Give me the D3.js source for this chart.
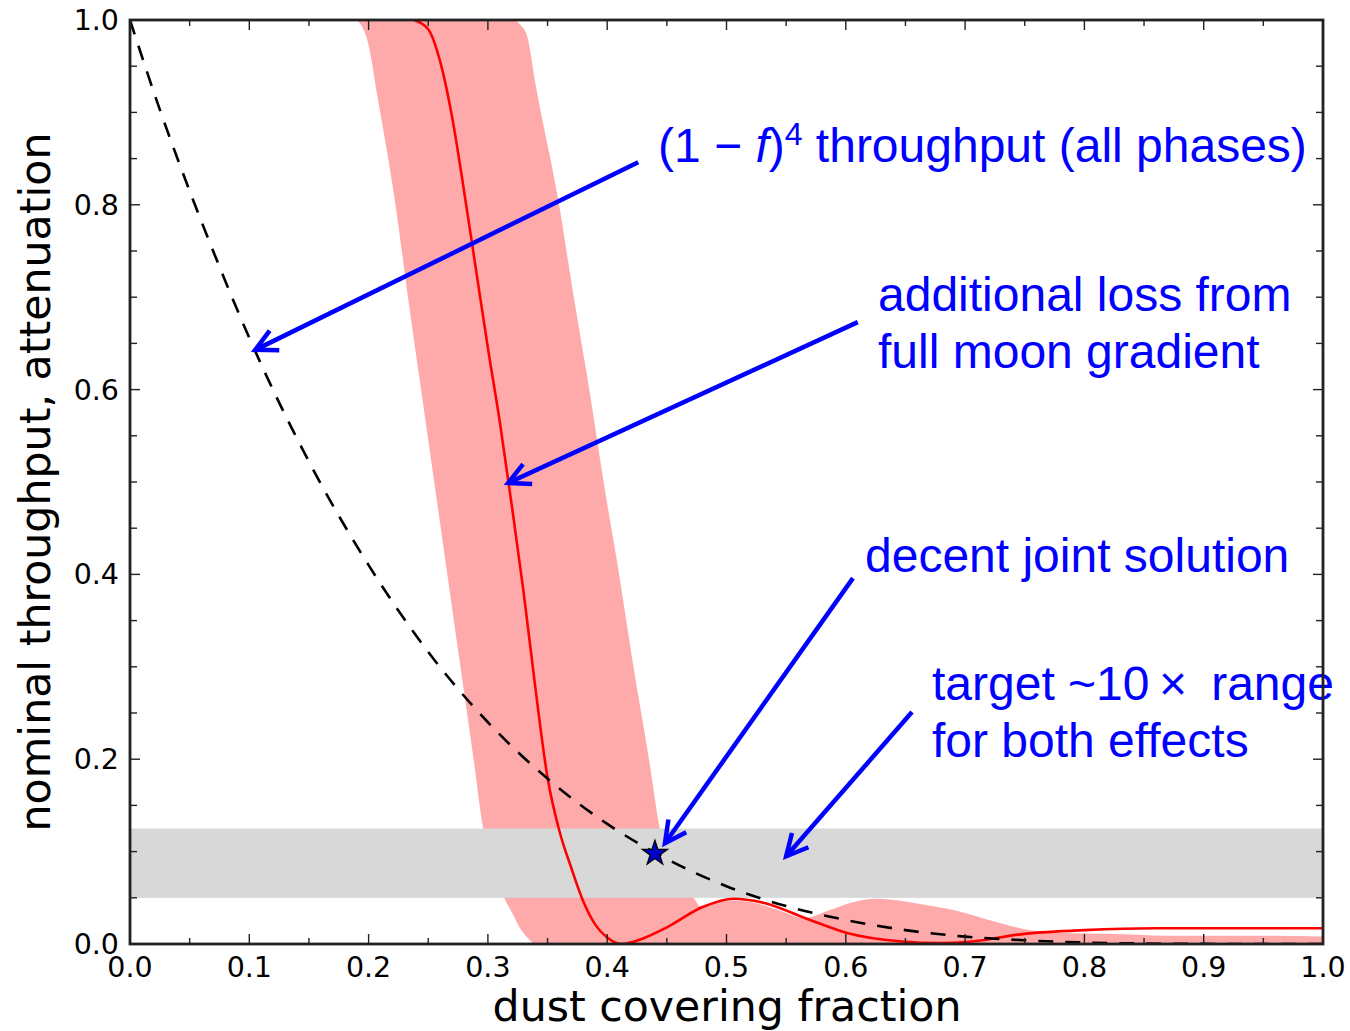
<!DOCTYPE html>
<html>
<head>
<meta charset="utf-8">
<script src="https://cdn.jsdelivr.net/npm/d3@7"></script>
<style>
  body { margin: 0; background: #fff; }
  svg { display: block; }
</style>
</head>
<body>
<svg id="chart"></svg>
<script>
// dashed curve
const dashF = [0, 0.025, 0.05, 0.075, 0.1, 0.15, 0.2, 0.25, 0.3, 0.35, 0.4, 0.45, 0.5, 0.55, 0.6, 0.65, 0.7, 0.75, 0.8, 0.85, 0.9, 0.95, 1.0]
const dashY = [1.0, 0.903, 0.815, 0.733, 0.656, 0.522, 0.410, 0.316, 0.240, 0.179, 0.130, 0.092, 0.0625, 0.041, 0.026, 0.015, 0.008, 0.004, 0.0016, 0.0005, 0.0001, 0, 0]

// red attenuation line
const redF = [0.238, 0.25, 0.26, 0.27, 0.28, 0.29, 0.30, 0.31, 0.32, 0.33, 0.34, 0.35, 0.36, 0.37, 0.38, 0.39, 0.40, 0.412, 0.43, 0.45, 0.48, 0.506, 0.53, 0.57, 0.601, 0.645, 0.68, 0.70, 0.75, 0.80, 0.86, 0.93, 1.0]
const redY = [1.0, 0.99, 0.955, 0.895, 0.815, 0.73, 0.645, 0.565, 0.475, 0.38, 0.275, 0.18, 0.122, 0.082, 0.046, 0.021, 0.007, 0.0, 0.006, 0.018, 0.040, 0.049, 0.045, 0.026, 0.012, 0.003, 0.001, 0.002, 0.011, 0.015, 0.017, 0.017, 0.017]

// pink band (lower / upper edge)
const bandF  = [0.190, 0.199, 0.208, 0.222, 0.233, 0.244, 0.255, 0.266, 0.277, 0.288, 0.296, 0.303, 0.313, 0.321, 0.327, 0.333, 0.340, 0.359, 0.372, 0.385, 0.397, 0.410, 0.422, 0.435, 0.444, 0.452, 0.462, 0.472, 0.478, 0.490, 0.505, 0.525, 0.545, 0.565, 0.585, 0.605, 0.626, 0.650, 0.672, 0.696, 0.720, 0.750, 0.780, 0.820, 0.870, 0.930, 1.000]
const bandLo = [1.000, 0.978, 0.913, 0.805, 0.700, 0.600, 0.500, 0.400, 0.300, 0.200, 0.125, 0.088, 0.052, 0.032, 0.017, 0.007, 0, 0, 0, 0, 0, 0, 0, 0, 0, 0, 0, 0, 0, 0, 0, 0, 0, 0, 0, 0, 0, 0, 0, 0, 0, 0, 0, 0, 0, 0, 0]
const bandHi = [1.000, 1.000, 1.000, 1.000, 1.000, 1.000, 1.000, 1.000, 1.000, 1.000, 1.000, 1.000, 1.000, 1.000, 0.995, 0.982, 0.930, 0.805, 0.700, 0.600, 0.500, 0.400, 0.300, 0.200, 0.125, 0.080, 0.060, 0.051, 0.041, 0.045, 0.047, 0.044, 0.036, 0.028, 0.036, 0.045, 0.049, 0.046, 0.041, 0.035, 0.026, 0.016, 0.012, 0.011, 0.009, 0.009, 0.008]

// grey target range
const targetRange = [0.05, 0.125]
// joint solution
const starPoint = [0.44, 0.098]

const xTicks = [0, 0.1, 0.2, 0.3, 0.4, 0.5, 0.6, 0.7, 0.8, 0.9, 1.0]
const yTicks = [0, 0.2, 0.4, 0.6, 0.8, 1.0]

const W = 1350, H = 1031
const margin = {left: 130, top: 20, right: 27, bottom: 87}
const iw = W - margin.left - margin.right
const ih = H - margin.top - margin.bottom

const svg = d3.select('#chart').attr('width', W).attr('height', H)

const x = d3.scaleLinear().domain([0, 1]).range([margin.left, margin.left + iw])
const y = d3.scaleLinear().domain([0, 1]).range([margin.top + ih, margin.top])

svg.append('clipPath').attr('id', 'plotclip')
  .append('rect').attr('x', margin.left).attr('y', margin.top).attr('width', iw).attr('height', ih)

const plot = svg.append('g').attr('clip-path', 'url(#plotclip)')

// pink band
const band = bandF.map((f, i) => [f, bandLo[i], bandHi[i]])
plot.append('path')
  .datum(band)
  .attr('fill', '#ffaaaa')
  .attr('d', d3.area().x(d => x(d[0])).y0(d => y(d[1])).y1(d => y(d[2])).curve(d3.curveMonotoneX))

// grey band
plot.append('rect')
  .attr('x', x(0)).attr('width', x(1) - x(0))
  .attr('y', y(targetRange[1])).attr('height', y(targetRange[0]) - y(targetRange[1]))
  .attr('fill', '#d8d8d8')

// red line
plot.append('path')
  .datum(redF.map((f, i) => [f, redY[i]]))
  .attr('fill', 'none').attr('stroke', '#ff0000').attr('stroke-width', 2.6)
  .attr('d', d3.line().x(d => x(d[0])).y(d => y(d[1])).curve(d3.curveMonotoneX))

// dashed (1-f)^4
plot.append('path')
  .datum(dashF.map((f, i) => [f, dashY[i]]))
  .attr('fill', 'none').attr('stroke', '#000').attr('stroke-width', 2.6)
  .attr('stroke-dasharray', '15,12')
  .attr('d', d3.line().x(d => x(d[0])).y(d => y(d[1])).curve(d3.curveMonotoneX))

// star
svg.append('path')
  .attr('transform', `translate(${x(starPoint[0])},${y(starPoint[1])})`)
  .attr('d', d3.symbol(d3.symbolStar, 200)())
  .attr('fill', '#0000cc').attr('stroke', '#000').attr('stroke-width', 1.2)

// annotation arrows: tail -> tip, in data coords
const arrows = [
  {from: [0.426, 0.846], to: [0.105, 0.643]},
  {from: [0.610, 0.673], to: [0.317, 0.499]},
  {from: [0.606, 0.396], to: [0.4484, 0.109]},
  {from: [0.6555, 0.251], to: [0.550, 0.095]}
]
const headLen = 24, headAng = 27 * Math.PI / 180
arrows.forEach(a => {
  const x0 = x(a.from[0]), y0 = y(a.from[1])
  const x1 = x(a.to[0]), y1 = y(a.to[1])
  const ang = Math.atan2(y0 - y1, x0 - x1)
  const w1 = [x1 + headLen * Math.cos(ang + headAng), y1 + headLen * Math.sin(ang + headAng)]
  const w2 = [x1 + headLen * Math.cos(ang - headAng), y1 + headLen * Math.sin(ang - headAng)]
  svg.append('line')
    .attr('x1', x0).attr('y1', y0).attr('x2', x1).attr('y2', y1)
    .attr('stroke', '#0000ff').attr('stroke-width', 4.5)
  svg.append('path')
    .attr('d', `M${w1[0]},${w1[1]}L${x1},${y1}L${w2[0]},${w2[1]}`)
    .attr('fill', 'none').attr('stroke', '#0000ff').attr('stroke-width', 4.5)
    .attr('stroke-linejoin', 'miter')
})

// annotation texts
const noteFont = '"Liberation Sans", Arial, sans-serif'
const noteSize = 48
const t1 = svg.append('text')
  .attr('x', 658).attr('y', 162)
  .attr('font-family', noteFont).attr('font-size', noteSize).attr('fill', '#0000ff')
t1.append('tspan').text('(1 \u2212 ')
t1.append('tspan').attr('font-style', 'italic').text('f')
t1.append('tspan').text(')')
t1.append('tspan').attr('font-size', 32).attr('dy', -17).text('4')
t1.append('tspan').attr('dy', 17).text(' throughput (all phases)')

const notes = [
  {x: 878, y: 311, lines: ['additional loss from', 'full moon gradient']},
  {x: 865, y: 572, lines: ['decent joint solution']},
  {x: 932, y: 700, lines: ['target ~10\u2009\u00d7\u2002range', 'for both effects']}
]
notes.forEach(n => {
  const t = svg.append('text')
    .attr('font-family', noteFont).attr('font-size', noteSize).attr('fill', '#0000ff')
    .attr('xml:space', 'preserve')
  n.lines.forEach((l, i) => {
    t.append('tspan').attr('x', n.x).attr('y', n.y + i * 57).text(l)
  })
})

// frame
const axisColor = '#222'
svg.append('rect')
  .attr('x', margin.left).attr('y', margin.top).attr('width', iw).attr('height', ih)
  .attr('fill', 'none').attr('stroke', axisColor).attr('stroke-width', 2.8)

const ticks = svg.append('g').attr('stroke', axisColor).attr('stroke-width', 1.4)
d3.range(0, 21).forEach(i => {
  const v = i / 20
  const major = i % 2 === 0
  const lx = major ? 10 : 6
  // bottom / top
  ticks.append('line').attr('x1', x(v)).attr('x2', x(v)).attr('y1', y(0)).attr('y2', y(0) - lx)
  ticks.append('line').attr('x1', x(v)).attr('x2', x(v)).attr('y1', y(1)).attr('y2', y(1) + lx)
  // left / right
  const ly = i % 4 === 0 ? 10 : 7
  ticks.append('line').attr('y1', y(v)).attr('y2', y(v)).attr('x1', x(0)).attr('x2', x(0) + ly)
  ticks.append('line').attr('y1', y(v)).attr('y2', y(v)).attr('x1', x(1)).attr('x2', x(1) - ly)
})

const fmt = d3.format('.1f')
const tickFont = '"DejaVu Sans", sans-serif'
svg.append('g').selectAll('text').data(xTicks).join('text')
  .attr('x', d => x(d)).attr('y', 977)
  .attr('text-anchor', 'middle')
  .attr('font-family', tickFont).attr('font-size', 28.5).attr('fill', '#000')
  .text(d => fmt(d))
svg.append('g').selectAll('text').data(yTicks).join('text')
  .attr('x', 119).attr('y', d => y(d) + 10)
  .attr('text-anchor', 'end')
  .attr('font-family', tickFont).attr('font-size', 28.5).attr('fill', '#000')
  .text(d => fmt(d))

// axis labels
svg.append('text')
  .attr('x', 727).attr('y', 1021).attr('text-anchor', 'middle')
  .attr('font-family', tickFont).attr('font-size', 42.7).attr('fill', '#000')
  .text('dust covering fraction')
svg.append('text')
  .attr('transform', 'translate(50,482) rotate(-90)')
  .attr('text-anchor', 'middle')
  .attr('font-family', tickFont).attr('font-size', 42.7).attr('fill', '#000')
  .text('nominal throughput, attenuation')
</script>
</body>
</html>
